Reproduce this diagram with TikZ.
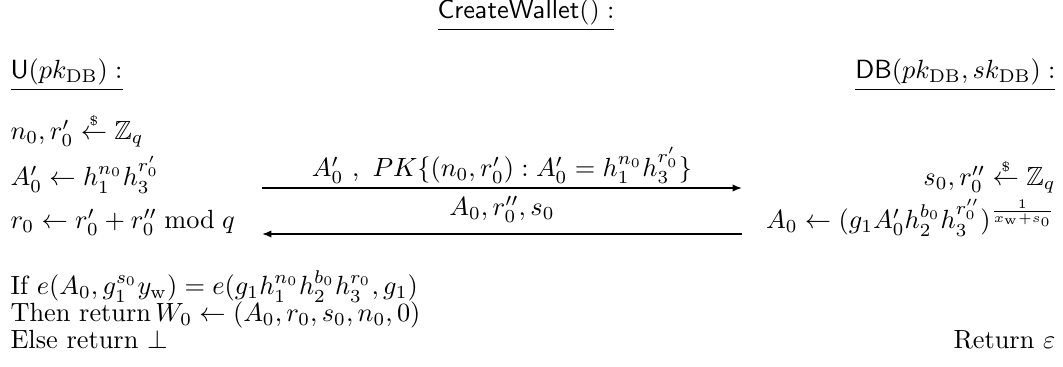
\documentclass[tikz,border=0pt]{standalone}
\usepackage{amsmath}
\usepackage{amssymb}
\usetikzlibrary{positioning, arrows.meta}
\newcommand{\rndfrom}{\mathrel{\overset{\scriptscriptstyle\$}{\leftarrow}}}
\tikzset{
    lft/.style={anchor=base west, inner sep=0pt},
    rgt/.style={anchor=base east, inner sep=0pt},
    msg/.style={-{Latex[length=3.6pt, width=2.8pt]}, line width=0.55pt},
    lbl/.style={midway, anchor=base, inner sep=0pt}
}

\begin{document}
\begin{tikzpicture}[x=0.38pt, y=-0.38pt]
    \useasboundingbox (0,0) rectangle (1063,367);

    % Title
    \node [anchor=base, inner sep=0pt] (title) at (526,19) {$\underline{\mathsf{CreateWallet}() :}$};

    % User side
    \node [lft] (user) at (10,79) {$\underline{\mathsf{U}(pk_{\mathrm{DB}}) :}$};
    \node [lft] (u1) at (10,140) {$n_0, r'_0 \rndfrom \mathbb{Z}_q$};
    \node [lft] (u2) at (10,186) {$A'_0 \leftarrow h_1^{n_0} h_3^{r'_0}$};
    \node [lft] (u3) at (10,229) {$r_0 \leftarrow r'_0 + r''_0 \bmod q$};
    \node [lft] (u4) at (10,295) {If $e(A_0, g_1^{s_0} y_{\mathrm{w}}) = e(g_1 h_1^{n_0} h_2^{b_0} h_3^{r_0}, g_1)$};
    \node [lft] (u5) at (10,322) {Then return$\,W_0 \leftarrow (A_0, r_0, s_0, n_0, 0)$};
    \node [lft] (u6) at (10,349) {Else return $\bot$};

    % Database side
    \node [rgt] (db) at (1056,79) {$\underline{\mathsf{DB}(pk_{\mathrm{DB}}, sk_{\mathrm{DB}}) :}$};
    \node [rgt] (d1) at (1056,186) {$s_0, r''_0 \rndfrom \mathbb{Z}_q$};
    \node [rgt] (d2) at (1056,229) {$A_0 \leftarrow (g_1 A'_0 h_2^{b_0} h_3^{r''_0})^{\frac{1}{x_{\mathrm{w}}+s_0}}$};
    \node [rgt] (d3) at (1056,349) {Return $\varepsilon$};

    % Messages
    \coordinate (m1s) at (262,188);
    \coordinate (m1e) at (742,188);
    \coordinate (m2s) at (742,234);
    \coordinate (m2e) at (262,234);
    \draw [msg] (m1s) -- node[lbl, yshift=4.3pt] {$A'_0\ ,\ PK\{(n_0, r'_0) : A'_0 = h_1^{n_0} h_3^{r'_0}\}$} (m1e);
    \draw [msg] (m2s) -- node[lbl, yshift=7pt] {$A_0, r''_0, s_0$} (m2e);
\end{tikzpicture}
\end{document}
